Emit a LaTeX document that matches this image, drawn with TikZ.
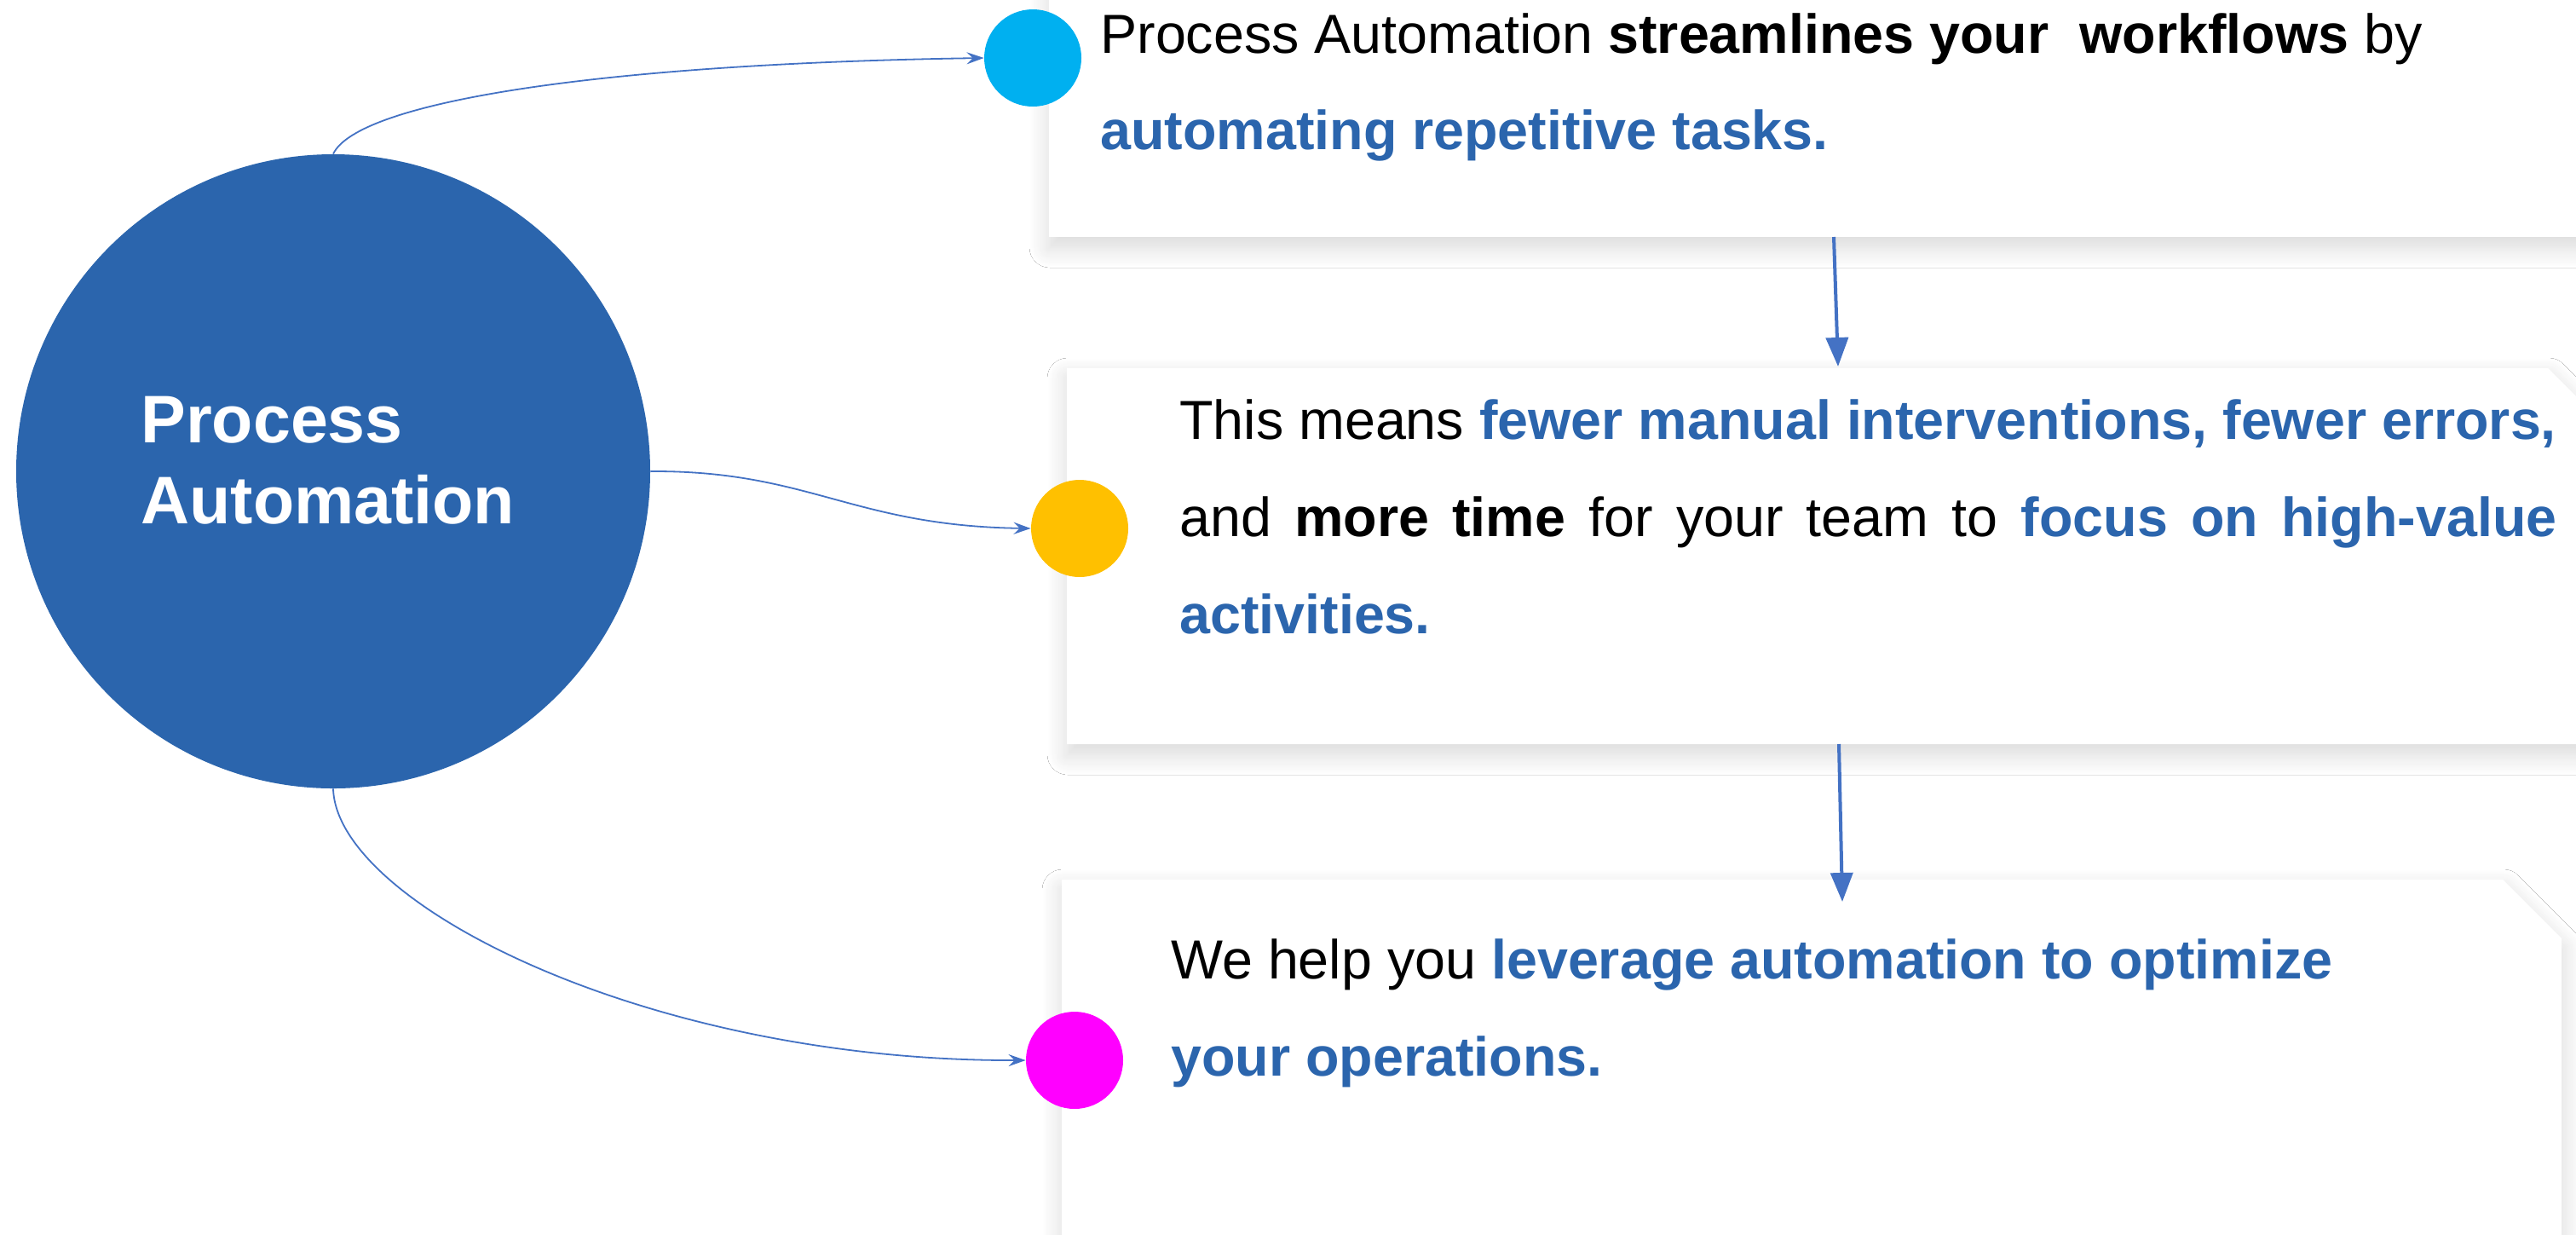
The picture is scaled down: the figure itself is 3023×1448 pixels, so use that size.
\documentclass[tikz,border=0pt]{standalone}
\usepackage{fontspec}
\setmainfont{Liberation Sans}
\usetikzlibrary{arrows.meta,shadows.blur}
\definecolor{pablue}{HTML}{2B65AD}
\definecolor{arrowblue}{HTML}{4472C4}
\definecolor{dotcyan}{HTML}{00B0F0}
\definecolor{dotyellow}{HTML}{FFC000}
\definecolor{dotmagenta}{HTML}{FF00FF}
\newcommand\bluebf[1]{\textcolor{pablue}{\textbf{#1}}}
\begin{document}
\begin{tikzpicture}[x=0.5pt,y=-0.5pt,
  txt/.style={anchor=base west, inner sep=0pt, font=\fontsize{32.3}{40}\selectfont},
  titletxt/.style={anchor=base west, inner sep=0pt, text=white, font=\fontsize{39.5}{48}\selectfont\bfseries},
  boxshadow/.style={blur shadow={shadow xshift=0.5pt, shadow yshift=-6pt, shadow blur radius=12pt, shadow blur steps=24, shadow opacity=16}},
  dot/.style={circle, inner sep=0pt, minimum size=57pt},
  conn/.style={draw=arrowblue, line width=0.9pt, -{Stealth[length=10pt,width=7pt,inset=3.5pt]}},
  flow/.style={draw=arrowblue, line width=2pt, -{Triangle[length=17pt,width=13pt]}}]
\useasboundingbox (0,0) rectangle (3023,1448);
\fill[white] (0,0) rectangle (3023,1448);

% boxes
\fill[white, boxshadow] (1231,-200) -- (3060,-200) -- (3060,278) -- (1231,278) -- cycle;
\fill[white, boxshadow] (1252,432) -- (2990,432) -- (3060,502) -- (3060,873) -- (1252,873) -- cycle;
\fill[white, boxshadow] (1246,1032) -- (2937,1032) -- (3006,1101) -- (3006,1520) -- (1246,1520) -- cycle;

% main circle
\node[circle, fill=pablue, inner sep=0pt, minimum size=372pt] (pa) at (391,553) {};
\node[titletxt] (pa1) at (165,519) {Process};
\node[titletxt] (pa2) at (165,614) {Automation};

% dots
\node[dot, fill=dotcyan] (d1) at (1212,68) {};
\node[dot, fill=dotyellow] (d2) at (1267,620) {};
\node[dot, fill=dotmagenta] (d3) at (1261,1244) {};

% curved connectors
\draw[conn] (pa.north) .. controls (420,120) and (700,75) .. (d1.west);
\draw[conn] (pa.east) .. controls (950,552) and (1000,617) .. (d2.west);
\draw[conn] (pa.south) .. controls (395,1060) and (760,1245) .. (d3.west);

% flow arrows between boxes
\coordinate (b1s) at (2152,278);
\coordinate (b2n) at (2157,430);
\coordinate (b2s) at (2158,873);
\coordinate (b3n) at (2162,1058);
\draw[flow] (b1s) -- (b2n);
\draw[flow] (b2s) -- (b3n);

% texts
\node[txt] (t11) at (1291,62) {Process Automation \textbf{streamlines your\ \ workflows} by};
\node[txt] (t12) at (1291,175) {\bluebf{automating repetitive tasks.}};

\node[txt] (t21) at (1384,515) {This means \bluebf{fewer manual interventions, fewer errors,}};
\node[txt] (t22) at (1384,629) {\makebox[808pt][s]{and \textbf{more time} for your team to \bluebf{focus on high-value}}};
\node[txt] (t23) at (1384,743) {\bluebf{activities.}};

\node[txt] (t31) at (1374,1148) {We help you \bluebf{leverage automation to optimize}};
\node[txt] (t32) at (1374,1262) {\bluebf{your operations.}};
\end{tikzpicture}
\end{document}
